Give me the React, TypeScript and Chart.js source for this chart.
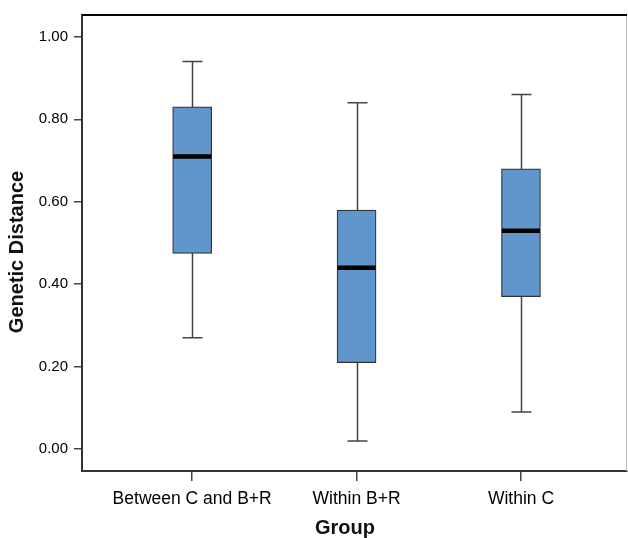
import React, { useEffect, useRef } from "react";
import { Chart, registerables } from "chart.js";

Chart.register(...registerables);

const categories = ["Between C and B+R", "Within B+R", "Within C"];
const whiskerMin = [0.27, 0.02, 0.09];
const q1 = [0.475, 0.21, 0.37];
const median = [0.71, 0.44, 0.53];
const q3 = [0.83, 0.58, 0.68];
const whiskerMax = [0.94, 0.84, 0.86];
const yTicks = [0, 0.2, 0.4, 0.6, 0.8, 1.0];
const xTitle = "Group";
const yTitle = "Genetic Distance";

const FONT = "'Liberation Sans', Arial, Helvetica, sans-serif";

const boxPlugin = {
  id: "boxExtras",
  beforeDatasetsDraw(chart: any) {
    const { ctx, scales } = chart;
    const x = scales.x;
    const y = scales.y;
    ctx.save();
    ctx.strokeStyle = "#444";
    ctx.lineWidth = 1.5;
    categories.forEach((_, i) => {
      const px = Math.round(x.getPixelForValue(i + 1)) + 0.5;
      const top = y.getPixelForValue(whiskerMax[i]);
      const bot = y.getPixelForValue(whiskerMin[i]);
      ctx.beginPath();
      ctx.moveTo(px, top);
      ctx.lineTo(px, bot);
      ctx.moveTo(px - 10, top);
      ctx.lineTo(px + 10, top);
      ctx.moveTo(px - 10, bot);
      ctx.lineTo(px + 10, bot);
      ctx.stroke();
    });
    ctx.restore();
  },
  afterDatasetsDraw(chart: any) {
    const { ctx, scales, chartArea } = chart;
    const x = scales.x;
    const y = scales.y;
    ctx.save();
    ctx.strokeStyle = "#000";
    ctx.lineWidth = 4.5;
    categories.forEach((_, i) => {
      const px = x.getPixelForValue(i + 1);
      const py = y.getPixelForValue(median[i]);
      ctx.beginPath();
      ctx.moveTo(px - 19, py);
      ctx.lineTo(px + 19, py);
      ctx.stroke();
    });
    const { left, right, top, bottom } = chartArea;
    ctx.strokeStyle = "#bbb";
    ctx.lineWidth = 1;
    ctx.beginPath();
    ctx.moveTo(right - 0.5, top);
    ctx.lineTo(right - 0.5, bottom);
    ctx.stroke();
    ctx.strokeStyle = "#000";
    ctx.lineWidth = 2;
    ctx.beginPath();
    ctx.moveTo(left, top);
    ctx.lineTo(right, top);
    ctx.stroke();
    ctx.restore();
  },
  afterDraw(chart: any) {
    const { ctx } = chart;
    ctx.save();
    ctx.fillStyle = "#111";
    ctx.font = `bold 20px ${FONT}`;
    ctx.textAlign = "center";
    ctx.textBaseline = "middle";
    ctx.fillText(xTitle, 345, 528);
    ctx.translate(17, 252);
    ctx.rotate(-Math.PI / 2);
    ctx.fillText(yTitle, 0, 0);
    ctx.restore();
  },
};

export default function App() {
  const ref = useRef<HTMLCanvasElement | null>(null);
  useEffect(() => {
    if (!ref.current) return;
    const chart = new Chart(ref.current, {
      type: "bar",
      data: {
        datasets: [
          {
            data: categories.map((_, i) => ({ x: i + 1, y: [q1[i], q3[i]] })) as any,
            backgroundColor: "#6196cc",
            borderColor: "#333",
            borderWidth: 1.2,
            borderSkipped: false,
            barThickness: 39,
          },
        ],
      },
      options: {
        responsive: false,
        animation: false,
        layout: { padding: { top: 13, right: 1, left: 0, bottom: 0 } },
        plugins: { legend: { display: false }, tooltip: { enabled: false } },
        scales: {
          x: {
            type: "linear",
            offset: false,
            min: 0.33,
            max: 3.645,
            afterBuildTicks: (s: any) => {
              s.ticks = categories.map((_, i) => ({ value: i + 1 }));
            },
            afterFit: (s: any) => {
              s.height = 67;
            },
            ticks: {
              callback: (v: any) => categories[Number(v) - 1] ?? "",
              font: { family: FONT, size: 17.5 },
              color: "#000",
              padding: 8,
              maxRotation: 0,
              autoSkip: false,
            },
            grid: { offset: false, drawOnChartArea: false, drawTicks: true, tickLength: 10, color: "#444", lineWidth: 1.5 },
            border: { display: true, color: "#333", width: 2 },
          },
          y: {
            type: "linear",
            min: -0.053,
            max: 1.053,
            afterBuildTicks: (s: any) => {
              s.ticks = yTicks.map((v) => ({ value: v }));
            },
            afterFit: (s: any) => {
              s.width = 82;
            },
            ticks: {
              callback: (v: any) => Number(v).toFixed(2),
              font: { family: FONT, size: 15 },
              color: "#000",
              padding: 6,
            },
            grid: { drawOnChartArea: false, drawTicks: true, tickLength: 8, color: "#444", lineWidth: 1.5 },
            border: { display: true, color: "#333", width: 2 },
          },
        },
      },
      plugins: [boxPlugin],
    });
    return () => chart.destroy();
  }, []);
  return (
    <div style={{ position: "absolute", left: 0, top: 0, width: 628, height: 538, background: "#fff" }}>
      <canvas ref={ref} width={628} height={538} />
    </div>
  );
}
